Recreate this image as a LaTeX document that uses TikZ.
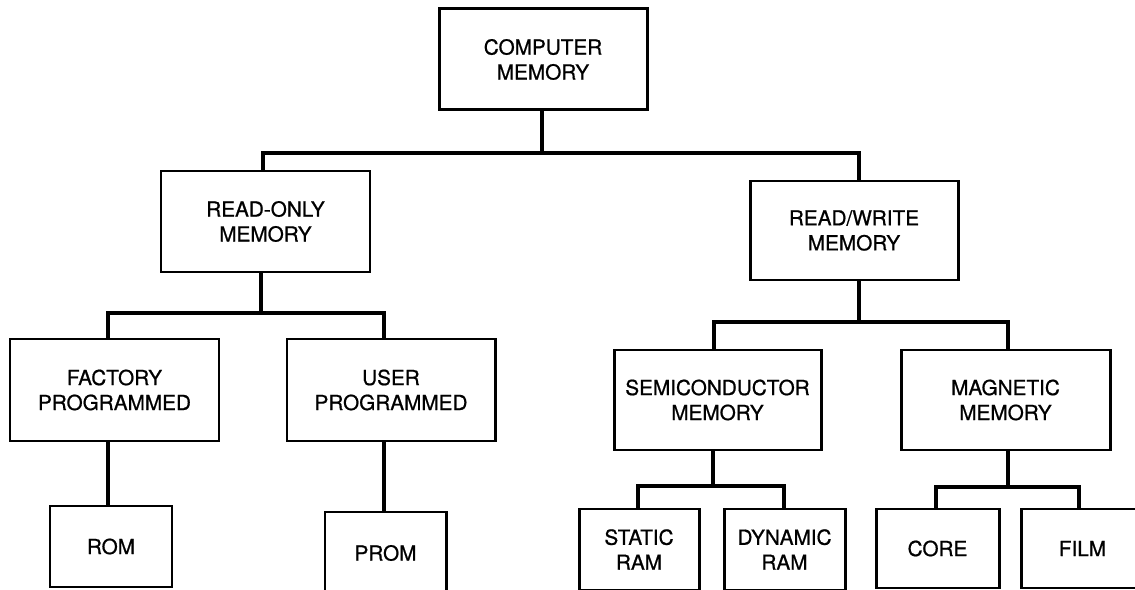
\documentclass[tikz,border=0pt]{standalone}
\usepackage{fontspec}
\setmainfont{TeX Gyre Heros}
\newfontfamily\lblfont[FakeBold=0.8]{TeX Gyre Heros}
\begin{document}
\begin{tikzpicture}[x=0.02cm,y=-0.02cm,
  pbox/.style 2 args={draw=black, line width=1.7pt, fill=white, align=center,
    minimum width=#1*0.02cm, minimum height=#2*0.02cm, inner sep=0pt,
    font=\lblfont\fontsize{11.8}{14.2}\selectfont},
  conn/.style={draw=black, line width=2.8pt, line join=miter, line cap=butt}]
\useasboundingbox (0,0) rectangle (1135,590);
\clip (0,0) rectangle (1135,590);
\fill[white] (0,0) rectangle (1135,590);

\node[pbox={208}{101}] (cm) at (543,59.5) {COMPUTER\\MEMORY};
\node[pbox={209}{101}] (ro) at (265.5,221.5) {READ-ONLY\\MEMORY};
\node[pbox={208}{99}] (rw) at (854,230.5) {READ/WRITE\\MEMORY};
\node[pbox={209}{102}] (fp) at (114.5,390) {FACTORY\\PROGRAMMED};
\node[pbox={208}{102}] (up) at (391,390) {USER\\PROGRAMMED};
\node[pbox={207}{100}] (sm) at (717.5,400) {SEMICONDUCTOR\\MEMORY};
\node[pbox={209}{100}] (mm) at (1005.5,400) {MAGNETIC\\MEMORY};
\node[pbox={122}{81}] (rom) at (111,546.5) {ROM};
\node[pbox={121}{82}] (prom) at (385.5,553) {PROM};
\node[pbox={120}{81}] (sr) at (639,549.5) {STATIC\\RAM};
\node[pbox={121}{81}] (dr) at (784.5,549.5) {DYNAMIC\\RAM};
\node[pbox={123}{79}] (core) at (937.5,548.5) {CORE};
\node[pbox={123}{79}] (film) at (1082.5,548.5) {FILM};

% junction points (stem x, bar y)
\coordinate (j0) at (542,153);
\coordinate (j1) at (261,313);
\coordinate (j2) at (859,322);
\coordinate (j3) at (713,486);
\coordinate (j4) at (1008,487);
% child entry x positions
\coordinate (xro) at (263,0);
\coordinate (xrw) at (859,0);
\coordinate (xfp) at (108,0);
\coordinate (xup) at (384,0);
\coordinate (xsm) at (714,0);
\coordinate (xmm) at (1008,0);
\coordinate (xsr) at (638,0);
\coordinate (xdr) at (784,0);
\coordinate (xco) at (936,0);
\coordinate (xfi) at (1079,0);

\draw[conn] (j0 |- cm.south) -- (j0);
\draw[conn] (xro |- ro.north) -- (xro |- j0) -- (xrw |- j0) -- (xrw |- rw.north);
\draw[conn] (j1 |- ro.south) -- (j1);
\draw[conn] (xfp |- fp.north) -- (xfp |- j1) -- (xup |- j1) -- (xup |- up.north);
\draw[conn] (j2 |- rw.south) -- (j2);
\draw[conn] (xsm |- sm.north) -- (xsm |- j2) -- (xmm |- j2) -- (xmm |- mm.north);
\draw[conn] (xfp |- fp.south) -- (xfp |- rom.north);
\draw[conn] (xup |- up.south) -- (xup |- prom.north);
\draw[conn] (j3 |- sm.south) -- (j3);
\draw[conn] (xsr |- sr.north) -- (xsr |- j3) -- (xdr |- j3) -- (xdr |- dr.north);
\draw[conn] (j4 |- mm.south) -- (j4);
\draw[conn] (xco |- core.north) -- (xco |- j4) -- (xfi |- j4) -- (xfi |- film.north);
\end{tikzpicture}
\end{document}
